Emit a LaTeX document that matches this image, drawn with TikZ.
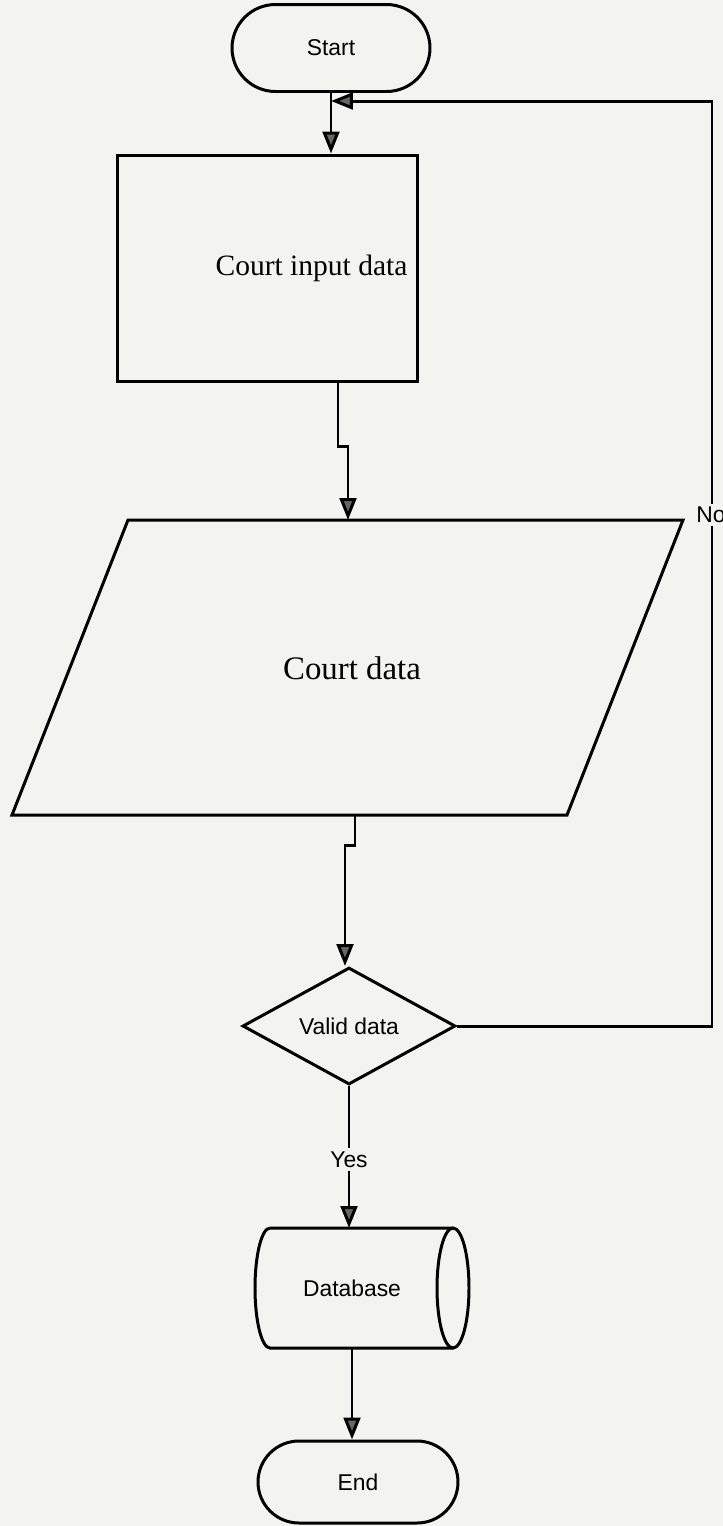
\documentclass[tikz,border=0pt]{standalone}
\usepackage{fontspec}
\setmainfont{Liberation Serif}
\newfontfamily\labelfont{Liberation Sans}
\usetikzlibrary{arrows.meta,shapes.geometric,shapes.misc}
\definecolor{paper}{RGB}{243,243,239}
\begin{document}
\begin{tikzpicture}[x=0.02cm,y=-0.02cm,
  line width=1.7pt,
  every node/.style={inner sep=0pt},
  flow/.style={-{Triangle[length=12.5pt,width=9.5pt,fill=black!60]}},
  link/.style={line join=miter},
  sans/.style={font=\labelfont\fontsize{13}{15}\selectfont},
  terminal/.style={draw, rounded rectangle, sans},
  procbox/.style={draw, rectangle},
  decision/.style={draw, diamond, sans},
  tag/.style={fill=paper, inner sep=2pt, sans}]

% page
\fill[paper] (0,0) rectangle (723,1526);
\useasboundingbox (0,0) rectangle (723,1526);

% nodes
\node[terminal, minimum width=3.96cm, minimum height=1.74cm] (start) at (331,48) {Start};
\node[procbox, minimum width=6.02cm, minimum height=4.54cm,
      label={[font=\fontsize{16.8}{20}\selectfont, xshift=0.88cm]center:Court input data}]
      (input) at (267.5,268.5) {};

% data (input/output) parallelogram
\coordinate (pTL) at (128,520);
\coordinate (pTR) at (683,520);
\coordinate (pBR) at (567,815);
\coordinate (pBL) at (12,815);
\draw[line join=miter] (pTL) -- (pTR) -- (pBR) -- (pBL) -- cycle;
\node[font=\fontsize{18.7}{22}\selectfont] (data) at (352,668) {Court data};
\coordinate (dataTop) at (348,520);
\coordinate (dataBot) at (355,815);

\node[decision, minimum width=4.26cm, minimum height=2.34cm] (valid) at (349,1026) {Valid data};

% database: horizontal drum
\node[sans] (db) at (352,1288) {Database};
\draw[line join=miter] (270,1228) -- (453,1228)
  (453,1348) -- (270,1348)
  arc[start angle=270, end angle=90, x radius=0.3cm, y radius=1.2cm];
\draw (453,1288) ellipse [x radius=0.32cm, y radius=1.2cm];
\coordinate (dbTop) at (352,1228);
\coordinate (dbBot) at (352,1348);

\node[terminal, minimum width=4cm, minimum height=1.64cm] (end) at (358,1482) {End};

% connectors
\coordinate (join) at (start.south |- 0,101);
\draw[flow] (start.south) -- (input.north -| start.south);
\draw[flow, link] (input.south -| 338,0) -- (338,446) -- (348,446) -- (dataTop);
\draw[flow, link] (dataBot) -- (355,845) -- (345,845) -- (valid.north -| 345,0);
\draw[flow] (valid.south) -- (dbTop -| valid.south)
  node[tag, pos=0.52] {Yes};
\draw[flow] (dbBot) -- (end.north -| dbBot);
\draw[flow, link] (valid.east) -- (712,1026) -- (712,101) -- (join);
\node[tag] (no) at (711,515) {No};

\end{tikzpicture}
\end{document}
